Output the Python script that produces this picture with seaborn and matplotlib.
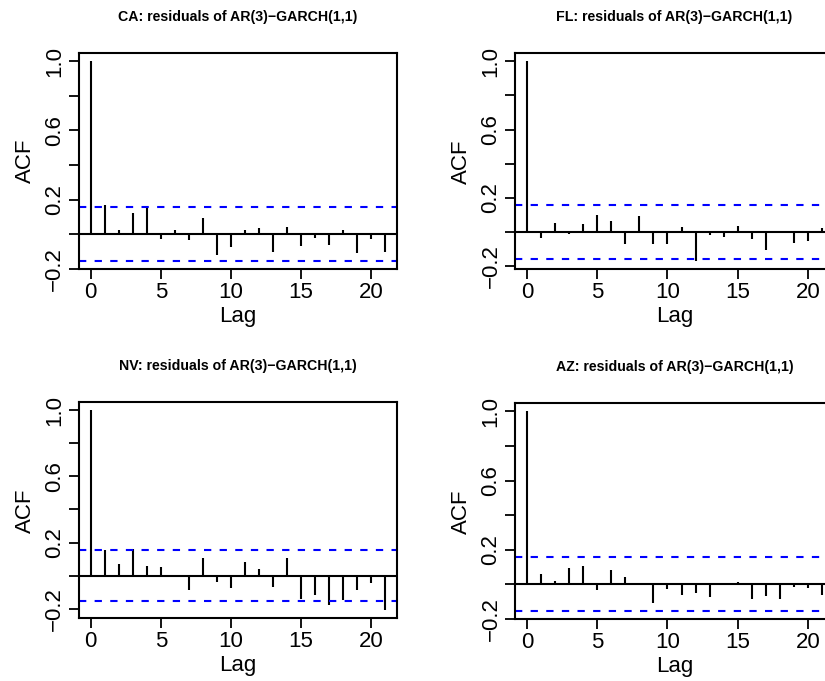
import numpy as np
import pandas as pd
import seaborn as sns
import matplotlib.pyplot as plt

sns.set_theme(style="white")
plt.rcParams["font.family"] = ["Liberation Sans", "DejaVu Sans"]

lags = list(range(22))
ci = 0.156

acf_ca = [1.0, 0.168, 0.023, 0.122, 0.164, -0.031, 0.023, -0.035, 0.091, -0.120, -0.073,
          0.025, 0.033, -0.106, 0.041, -0.071, -0.023, -0.064, 0.021, -0.110, -0.027, -0.104]
acf_fl = [1.0, -0.035, 0.055, -0.010, 0.047, 0.099, 0.064, -0.070, 0.092, -0.070, -0.070,
          0.027, -0.172, -0.016, -0.027, 0.033, -0.039, -0.105, 0.005, -0.062, -0.055, 0.025]
acf_nv = [1.0, 0.155, 0.070, 0.159, 0.060, 0.050, -0.006, -0.087, 0.105, -0.036, -0.078,
          0.082, 0.038, -0.072, 0.105, -0.143, -0.119, -0.175, -0.147, -0.087, -0.046, -0.210]
acf_az = [1.0, 0.060, 0.017, 0.092, 0.106, -0.035, 0.081, 0.040, 0.003, -0.110, -0.025,
          -0.060, -0.048, -0.073, -0.003, 0.012, -0.085, -0.067, -0.083, -0.015, -0.023, -0.062]

states = ["CA", "FL", "NV", "AZ"]
series = [acf_ca, acf_fl, acf_nv, acf_az]

# axes boxes in pixels: left, top, right, bottom
W, H = 825, 681
boxes = [(79, 53.3, 396.7, 269), (515.3, 53.3, 833.7, 269.3),
         (79, 402.3, 396.7, 618.3), (515.3, 403.3, 833.7, 619.3)]

fig = plt.figure(figsize=(W / 100, H / 100), dpi=100)

for state, acf, (l, t, r, b) in zip(states, series, boxes):
    ax = fig.add_axes([l / W, 1 - b / H, (r - l) / W, (b - t) / H])
    df = pd.DataFrame({"lag": lags, "acf": acf})
    ax.vlines(df["lag"], 0, df["acf"], color="black", lw=1.5)
    ax.axhline(0, color="black", lw=1.5)
    for c in (ci, -ci):
        ax.axhline(c, color="#0000ff", lw=1.5, ls=(0, (3.5, 4)))

    lo = min(min(acf), -ci)
    hi = max(max(acf), ci)
    pad = 0.04 * (hi - lo)
    ax.set_ylim(lo - pad, hi + pad)
    ax.set_xlim(-0.84, 21.84)

    ax.set_xticks([0, 5, 10, 15, 20])
    ax.set_yticks([-0.2, 0.0, 0.2, 0.4, 0.6, 0.8, 1.0])
    ax.set_yticklabels(["\u22120.2", "", "0.2", "", "0.6", "", "1.0"],
                       rotation=90, va="center")
    ax.tick_params(axis="both", direction="out", length=7, width=1.3,
                   color="black", labelsize=16, labelcolor="black",
                   left=True, bottom=True)
    ax.tick_params(axis="x", pad=2.5)
    ax.tick_params(axis="y", pad=3)
    for s in ax.spines.values():
        s.set_color("black")
        s.set_linewidth(1.5)
        s.set_visible(True)
    ax.grid(False)
    ax.set_xlabel("Lag", fontsize=16, labelpad=2, color="black")
    ax.set_ylabel("ACF", fontsize=16, labelpad=6, color="black")
    ax.set_title(f"{state}: residuals of AR(3)\u2212GARCH(1,1)", fontsize=10.2,
                 fontweight="bold", pad=23, color="black")

fig.savefig("out.png", dpi=100)
